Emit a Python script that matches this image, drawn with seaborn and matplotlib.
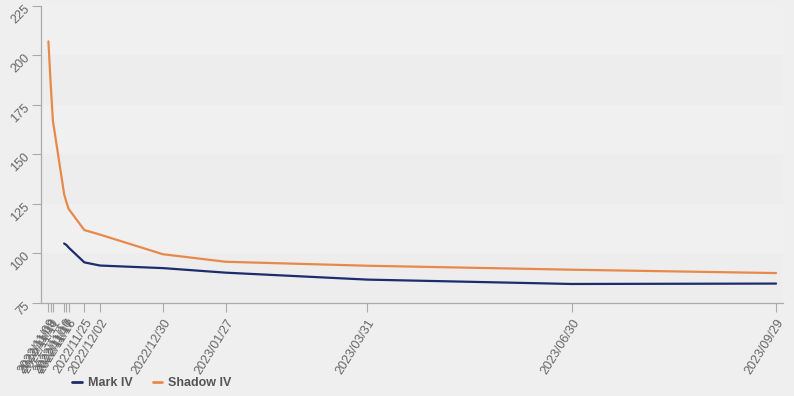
import matplotlib
matplotlib.use("Agg")
import matplotlib.pyplot as plt
import matplotlib.dates as mdates
from matplotlib.lines import Line2D
import seaborn as sns
import pandas as pd
import numpy as np

expiries = ["2022/11/09", "2022/11/10", "2022/11/11", "2022/11/16", "2022/11/17",
            "2022/11/18", "2022/11/25", "2022/12/02", "2022/12/30", "2023/01/27",
            "2023/03/31", "2023/06/30", "2023/09/29"]
mark_iv = [np.nan, np.nan, np.nan, 105.0, 104.3, 103.0, 95.5, 93.9, 92.6, 90.3,
           86.8, 84.6, 84.8]
shadow_iv = [207.0, 186.0, 167.0, 130.0, 126.0, 122.5, 111.8, 109.5, 99.6, 95.8,
             93.8, 91.8, 90.1]
series_names = ["Mark IV", "Shadow IV"]
colors = ["#1b2d6b", "#e8894a"]
y_ticks = [75, 100, 125, 150, 175, 200, 225]

dates = pd.to_datetime(expiries, format="%Y/%m/%d")
df = pd.concat([
    pd.DataFrame({"date": dates, "iv": mark_iv, "series": series_names[0]}),
    pd.DataFrame({"date": dates, "iv": shadow_iv, "series": series_names[1]}),
]).dropna()

sns.set_theme(style="white")
plt.rcParams["font.family"] = ["Liberation Sans", "DejaVu Sans"]

fig = plt.figure(figsize=(7.94, 3.96), dpi=100, facecolor="#efefef")
ax = fig.add_axes([41 / 794, 1 - 303 / 396, (783 - 41) / 794, (303 - 5.7) / 396])
ax.set_facecolor("#efefef")

# alternating horizontal bands
for lo, hi, c in [(75, 100, "#ededed"), (100, 125, "#f0f0f0"), (125, 150, "#ededed"),
                  (150, 175, "#f0f0f0"), (175, 200, "#ededed"), (200, 225, "#f0f0f0")]:
    ax.axhspan(lo, hi, color=c, zorder=0, lw=0)

sns.lineplot(data=df, x="date", y="iv", hue="series", hue_order=series_names,
             palette=colors, linewidth=1.6, ax=ax, legend=False, zorder=3)

ax.set_ylim(75, 225)
ax.set_xlim(pd.Timestamp("2022-11-05 17:00"), pd.Timestamp("2023-10-02 02:00"))
ax.set_yticks(y_ticks)
ax.set_xticks(dates)
ax.xaxis.set_major_formatter(mdates.DateFormatter("%Y/%m/%d"))
ax.set_xlabel("")
ax.set_ylabel("")

for s in ["top", "right"]:
    ax.spines[s].set_visible(False)
for s in ["left", "bottom"]:
    ax.spines[s].set_color("#aaaaaa")
    ax.spines[s].set_linewidth(0.9)

ax.tick_params(axis="both", which="major", length=6.5, width=0.8, color="#aaaaaa",
               labelcolor="#666666", labelsize=9, bottom=True, left=True)
plt.setp(ax.get_xticklabels(), rotation=58, ha="right", rotation_mode="anchor")
plt.setp(ax.get_yticklabels(), rotation=45, ha="right", rotation_mode="anchor")

handles = [Line2D([], [], color=c, lw=2) for c in colors]
leg = fig.legend(handles, series_names, loc="center left", bbox_to_anchor=(0.077, 0.032),
                 ncol=2, frameon=False, handlelength=0.75, handletextpad=0.5,
                 columnspacing=1.6, prop={"weight": "bold", "size": 9})
for t in leg.get_texts():
    t.set_color("#555555")

fig.savefig("out.png", dpi=100, facecolor=fig.get_facecolor())
